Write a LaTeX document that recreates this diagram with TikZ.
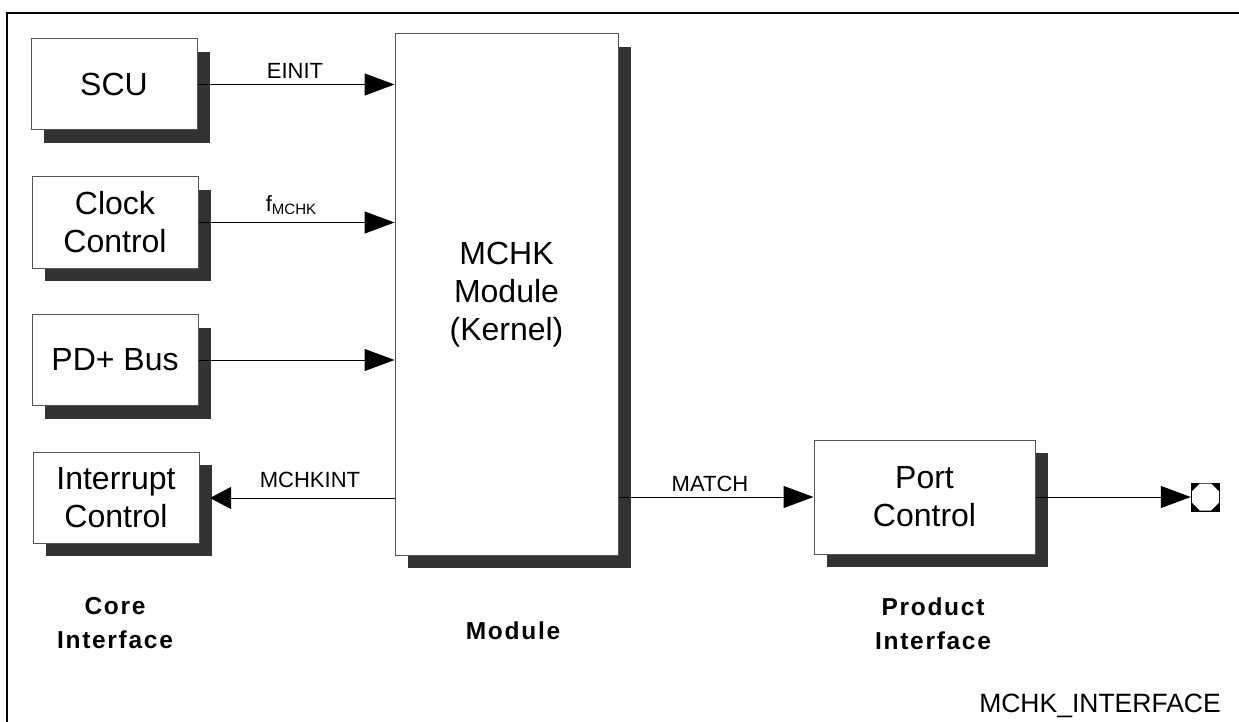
\documentclass[tikz,border=0pt]{standalone}
\usepackage{fontspec}
\setmainfont{Liberation Sans}
\newfontfamily\capfont[LetterSpace=7]{Liberation Sans}
\usetikzlibrary{arrows.meta,shadows}
\definecolor{shc}{HTML}{333333}
\definecolor{bordc}{HTML}{555555}
\begin{document}
\begin{tikzpicture}[x=1pt,y=-1pt,
  box/.style={draw=bordc, line width=1pt, fill=white, align=center, inner sep=0pt,
    font=\fontsize{32}{38}\selectfont,
    drop shadow={shadow xshift=13pt, shadow yshift=-13pt, fill=shc, opacity=1}},
  small/.style={minimum width=166pt, minimum height=91pt},
  lab/.style={inner sep=0pt, font=\fontsize{22}{26}\selectfont},
  captext/.style={inner sep=0pt, align=center, font=\capfont\bfseries\fontsize{24.5}{34}\selectfont},
  conn/.style={line width=1pt, draw=black},
  tipR/.style={-{Triangle[length=30pt,width=22pt]}},
  tipL/.style={-{Triangle[length=21pt,width=22pt]}}
]
\useasboundingbox (0,0) rectangle (1239,722);
% frame
\draw[line width=2pt] (7,722) -- (7,13) -- (1239,13);

% boxes
\node[box,small] (scu) at (114,84.5) {SCU};
\node[box,small] (clk) at (115,222.5) {Clock\\Control};
\node[box,small] (pd) at (115,360) {PD+ Bus};
\node[box,small] (irq) at (116,497.5) {Interrupt\\Control};
\node[box,minimum width=223pt,minimum height=521pt] (mod) at (506.5,294.5) {MCHK\\Module\\(Kernel)};
\node[box,minimum width=221pt,minimum height=114pt] (port) at (924.5,497) {Port\\Control};

% pin
\node[fill=black, minimum size=29pt, inner sep=0pt] (pin) at (1205.5,497) {};
\fill[white, shift={(pin.center)}] (-5.6,-13.5) -- (5.6,-13.5) -- (13.5,-5.6) -- (13.5,5.6)
  -- (5.6,13.5) -- (-5.6,13.5) -- (-13.5,5.6) -- (-13.5,-5.6) -- cycle;

% connectors
\coordinate (m1) at (mod.west |- scu.east);
\coordinate (m2) at (mod.west |- clk.east);
\coordinate (m3) at (mod.west |- pd.east);
\coordinate (m4) at (mod.west |- 0,498);
\coordinate (i4) at (210,498);
\coordinate (m5) at (mod.east |- port.west);
\draw[conn,tipR] (scu.east) -- (m1);
\draw[conn,tipR] (clk.east) -- (m2);
\draw[conn,tipR] (pd.east) -- (m3);
\draw[conn,tipL] (m4) -- (i4);
\draw[conn,tipR] (m5) -- (port.west);
\draw[conn,tipR] (port.east) -- (pin.west);

% connector labels
\node[lab] (l1) at (295,71) {EINIT};
\node[lab] (l2) at (291,205) {f\raisebox{-2.5pt}{\fontsize{15}{15}\selectfont MCHK}};
\node[lab] (l4) at (310,480) {MCHKINT};
\node[lab] (l5) at (710,484) {MATCH};

% captions
\node[captext] (c1) at (115,623) {Core\\Interface};
\node[captext] (c2) at (513,631) {Module};
\node[captext] (c3) at (933,623.5) {Product\\Interface};
\node[inner sep=0pt, font=\fontsize{26.5}{30}\selectfont] (title) at (1100,706) {MCHK\_INTERFACE};
\end{tikzpicture}
\end{document}
